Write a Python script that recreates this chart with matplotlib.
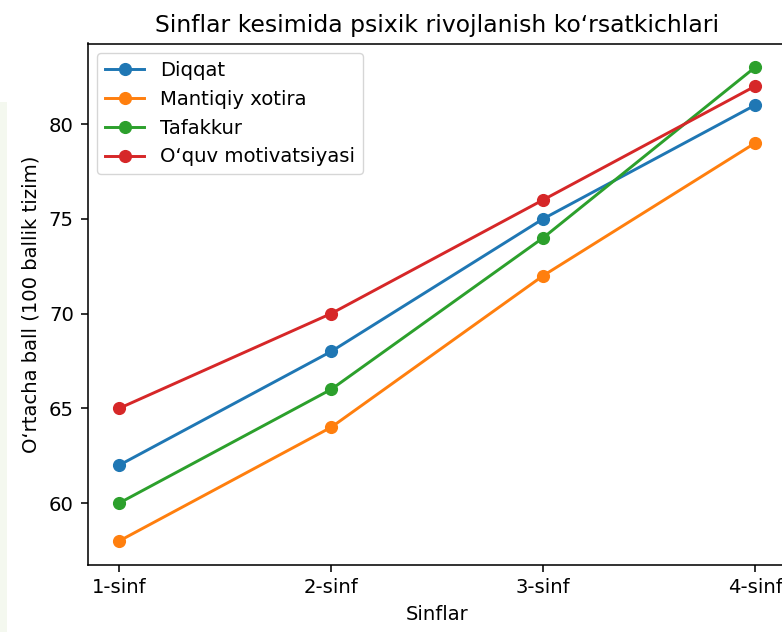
import matplotlib
matplotlib.use("Agg")
import matplotlib.pyplot as plt
from matplotlib.patches import Rectangle

categories = ["1-sinf", "2-sinf", "3-sinf", "4-sinf"]
diqqat = [62, 68, 75, 81]
mantiqiy = [58, 64, 72, 79]
tafakkur = [60, 66, 74, 83]
motivatsiya = [65, 70, 76, 82]

series = [
    ("Diqqat", diqqat, "#1f77b4"),
    ("Mantiqiy xotira", mantiqiy, "#ff7f0e"),
    ("Tafakkur", tafakkur, "#2ca02c"),
    ("O\u2018quv motivatsiyasi", motivatsiya, "#d62728"),
]

s = 1.41
plt.rcParams.update({
    "font.size": 10 * s,
    "axes.linewidth": 0.8 * s,
    "xtick.major.size": 3.5 * s,
    "ytick.major.size": 3.5 * s,
    "xtick.major.width": 0.8 * s,
    "ytick.major.width": 0.8 * s,
    "xtick.major.pad": 3.5 * s,
    "ytick.major.pad": 3.5 * s,
})

fig = plt.figure(figsize=(7.82, 6.32), dpi=100)
fig.patches.append(Rectangle((0, 0), 7 / 782, 530 / 632, transform=fig.transFigure,
                             facecolor="#f4f8ef", edgecolor="none", zorder=0))

ax = fig.add_axes([87.5 / 782, 67.4 / 632, (787 - 87.5) / 782, (588.5 - 67.4) / 632])
x = list(range(len(categories)))
for name, vals, col in series:
    ax.plot(x, vals, marker="o", color=col, label=name, linewidth=1.5 * s, markersize=6 * s)

ax.set_xticks(x)
ax.set_xticklabels(categories)
ax.set_title("Sinflar kesimida psixik rivojlanish ko\u2018rsatkichlari", fontsize=12 * s, pad=6 * s)
ax.set_xlabel("Sinflar", labelpad=4 * s)
ax.set_ylabel("O\u2018rtacha ball (100 ballik tizim)", labelpad=4 * s)
ax.legend(loc="upper left", fontsize=10 * s, borderaxespad=0.5, handlelength=2.0)

fig.savefig("out.png", dpi=100)
